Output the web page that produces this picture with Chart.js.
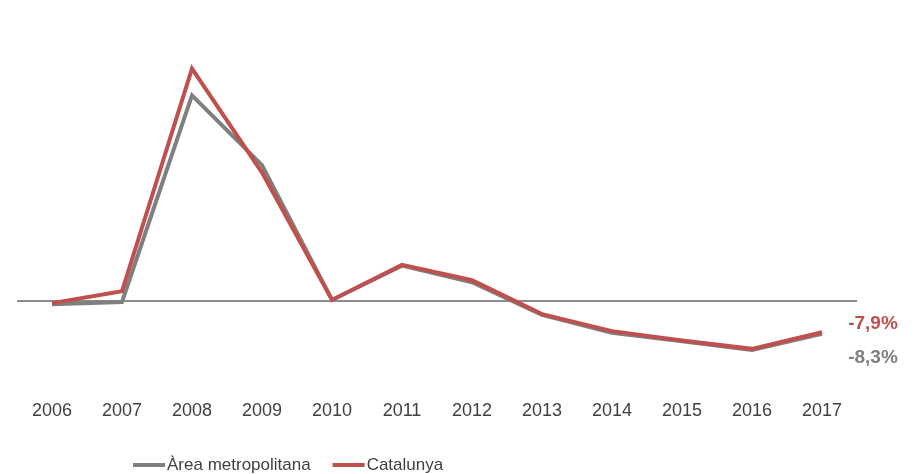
<!DOCTYPE html>
<html>
<head>
<meta charset="utf-8">
<script src="https://cdn.jsdelivr.net/npm/chart.js@4.4.1/dist/chart.umd.min.js"></script>
<style>
  html, body { margin: 0; padding: 0; background: #fff; }
  #wrap { width: 918px; height: 474px; }
</style>
</head>
<body>
<div id="wrap"><canvas id="canvas" width="918" height="474"></canvas></div>
<script>
// data (% change)
var years = ['2006','2007','2008','2009','2010','2011','2012','2013','2014','2015','2016','2017'];
var areaMetro = [-0.8, -0.2, 52.2, 34.5, 0.3, 9.0, 4.8, -3.5, -8.0, -10.2, -12.4, -8.3];
var catalunya = [-0.5, 2.5, 59.0, 32.6, 0.3, 9.2, 5.3, -3.3, -7.6, -10.0, -12.1, -7.9];
var endLabels = ['-8,3%', '-7,9%'];

var GRAY = '#7f7f7f';
var RED = '#c0504d';
var FONT = '"Liberation Sans", sans-serif';

// end labels + own legend
var extras = {
    id: 'extras',
    afterDatasetsDraw: function (chart) {
        var ctx = chart.ctx;
        var x = chart.chartArea.right + 16;
        ctx.save();
        ctx.font = 'bold 19px ' + FONT;
        ctx.textAlign = 'center';
        ctx.textBaseline = 'middle';
        var gMeta = chart.getDatasetMeta(0);
        var rMeta = chart.getDatasetMeta(1);
        var gPt = gMeta.data[gMeta.data.length - 1];
        var rPt = rMeta.data[rMeta.data.length - 1];
        ctx.fillStyle = RED;
        ctx.fillText(endLabels[1], x, rPt.y - 9);
        ctx.fillStyle = GRAY;
        ctx.fillText(endLabels[0], x, gPt.y + 24);

        // legend
        var ly = 465;
        var lx = 133;
        ctx.font = '17px ' + FONT;
        ctx.textAlign = 'left';
        [0, 1].forEach(function (i) {
            var ds = chart.data.datasets[i];
            ctx.strokeStyle = ds.borderColor;
            ctx.lineWidth = 4;
            ctx.beginPath();
            ctx.moveTo(lx, ly);
            ctx.lineTo(lx + 32, ly);
            ctx.stroke();
            ctx.fillStyle = '#404040';
            ctx.fillText(ds.label, lx + 34, ly);
            lx += 34 + ctx.measureText(ds.label).width + 22;
        });
        ctx.restore();
    }
};

var config = {
    type: 'line',
    data: {
        labels: years,
        datasets: [{
            label: 'Àrea metropolitana',
            data: areaMetro,
            borderColor: GRAY,
            backgroundColor: GRAY,
            borderWidth: 4,
            pointRadius: 0,
            tension: 0,
            order: 2
        }, {
            label: 'Catalunya',
            data: catalunya,
            borderColor: RED,
            backgroundColor: RED,
            borderWidth: 4,
            pointRadius: 0,
            tension: 0,
            order: 1
        }]
    },
    options: {
        responsive: false,
        animation: false,
        layout: { padding: { left: 17, right: 61, top: 24, bottom: 45 } },
        plugins: {
            legend: { display: false },
            tooltip: { enabled: false }
        },
        scales: {
            x: {
                offset: true,
                grid: { display: false, drawTicks: false },
                border: { display: false },
                ticks: {
                    color: '#404040',
                    padding: 7,
                    maxRotation: 0,
                    font: { family: FONT, size: 18 }
                }
            },
            y: {
                min: -23.4,
                max: 70.3,
                ticks: { display: false, stepSize: 10 },
                border: { display: false },
                grid: {
                    drawTicks: false,
                    lineWidth: 2,
                    color: function (c) { return c.tick && c.tick.value === 0 ? '#8c8c8c' : 'rgba(0,0,0,0)'; }
                }
            }
        }
    },
    plugins: [extras]
};

window.onload = function () {
    var ctx = document.getElementById('canvas').getContext('2d');
    window.myLine = new Chart(ctx, config);
};
</script>
</body>
</html>
